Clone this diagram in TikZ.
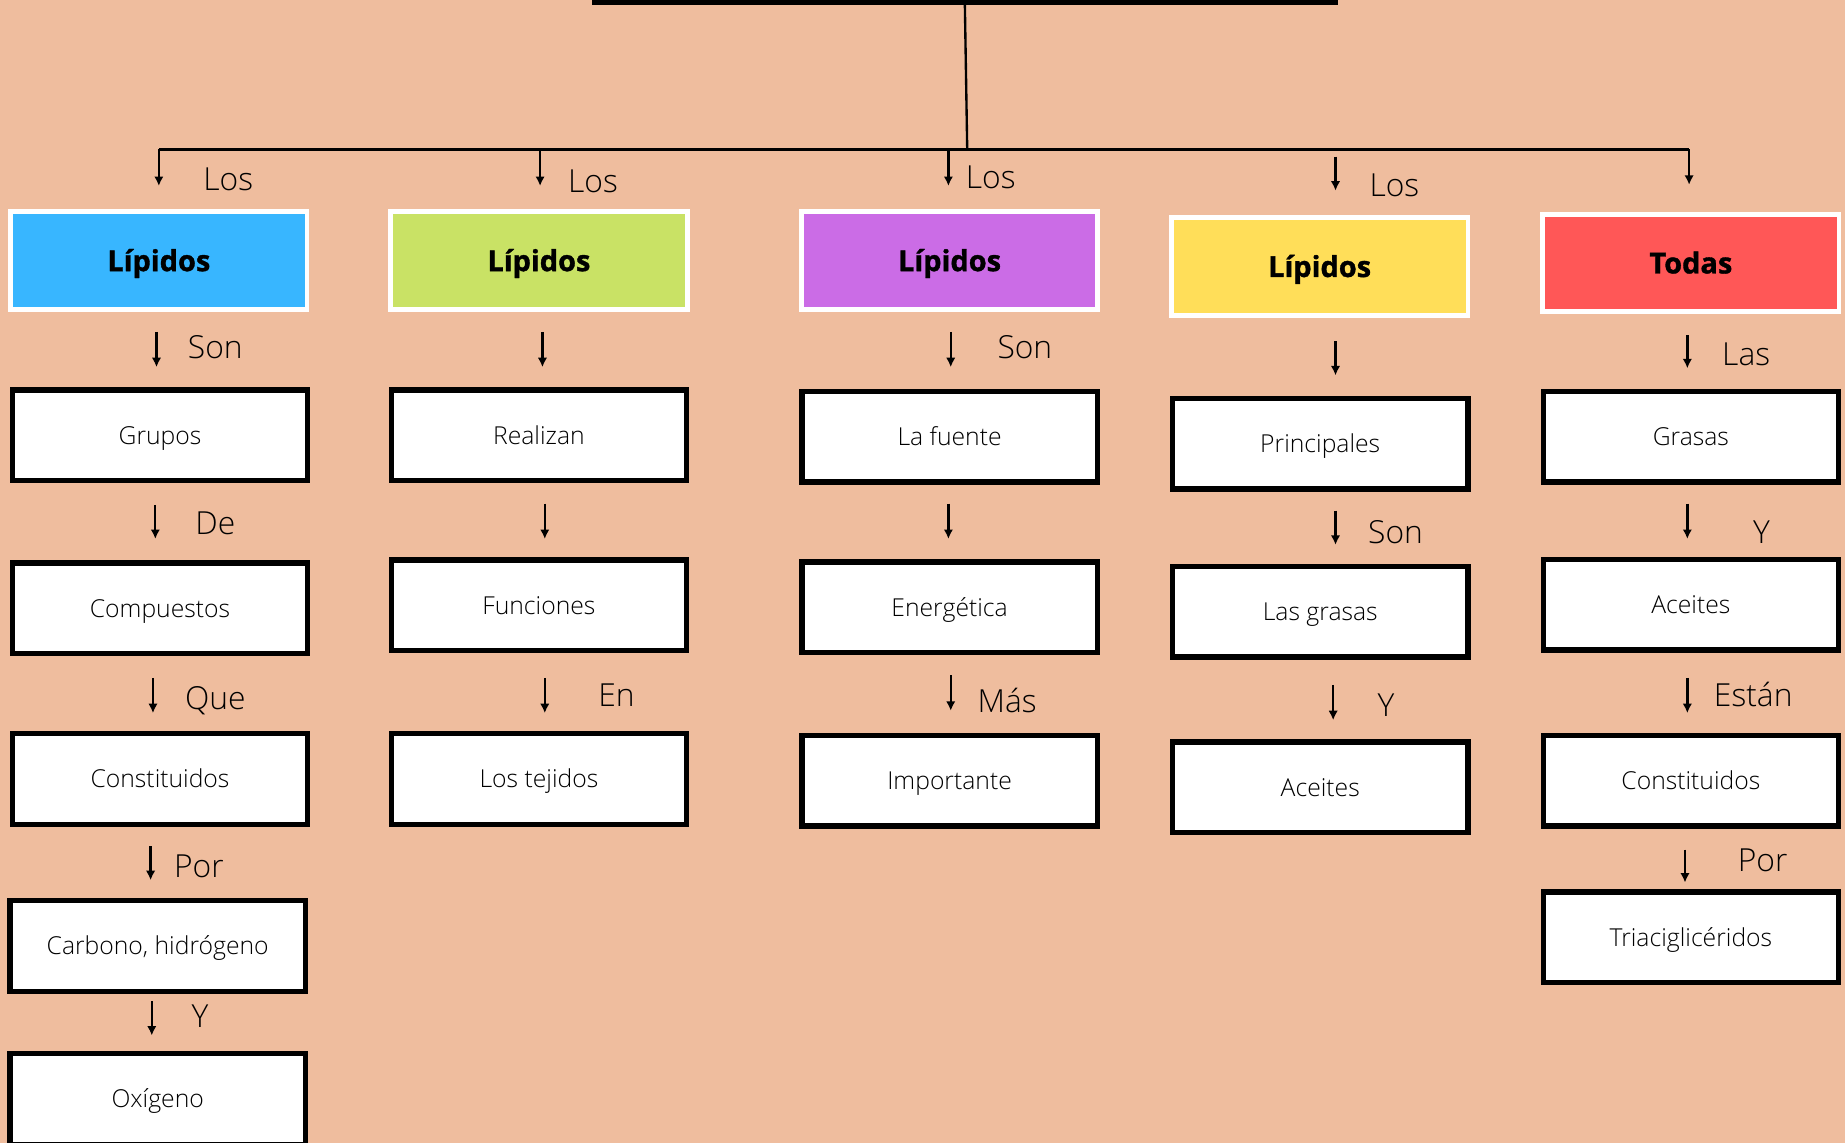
\documentclass[tikz,border=0pt]{standalone}
\usepackage{fontspec}
\setmainfont{Open Sans}[UprightFont={* Light},BoldFont={* Bold},BoldFeatures={FakeBold=1.2}]
\usetikzlibrary{arrows.meta}
\definecolor{bg}{HTML}{EFBD9E}
\definecolor{cblue}{HTML}{38B6FF}
\definecolor{cgreen}{HTML}{C9E265}
\definecolor{cpurple}{HTML}{CB6CE6}
\definecolor{cyellow}{HTML}{FFDE59}
\definecolor{cred}{HTML}{FF5757}
% short downward arrow between two named coordinates
\newcommand\dnarrow[4]{%
  \coordinate (#1s) at (#2,#3);
  \coordinate (#1e) at (#2,#4);
  \draw[arr] (#1s) -- (#1e);}
\begin{document}
\begin{tikzpicture}[x=0.5pt,y=-0.5pt,
  wbox/.style={draw=black,fill=white,line width=2.3pt,minimum width=125.5pt,
    minimum height=38.5pt,inner sep=0pt,text height=7.6pt,text depth=0pt,
    font=\fontsize{10.5}{12}\selectfont},
  hbox/.style={draw=white,line width=2pt,minimum width=126pt,minimum height=41.5pt,
    inner sep=0pt,text height=8.9pt,text depth=0pt,
    font=\bfseries\fontsize{12.3}{14}\selectfont},
  lbl/.style={font=\fontsize{13.5}{16}\selectfont,inner sep=0pt,text height=9.6pt,text depth=0pt},
  arr/.style={line width=1pt,-{Latex[length=4pt,width=4pt]}}]

% page and background
\fill[bg] (0,0) rectangle (1568,971);
\useasboundingbox (0,0) rectangle (1568,971);

% title bar and branching lines
\fill[black] (503,-10) rectangle (1137,4);
\coordinate (stemtop) at (820,4);
\coordinate (stembot) at (822,127);
\coordinate (brL) at (135,127);
\coordinate (brR) at (1435.5,127);
\draw[line width=1pt] (stemtop) -- (stembot);
\draw[line width=1pt] (brL) -- (brR);

% ---------- column 1 ----------
\dnarrow{a10}{135}{127}{158}
\node[lbl] (l10) at (194,152) {Los};
\node[hbox,fill=cblue] (c1) at (135,221.5) {Lípidos};
\dnarrow{a11}{133}{282}{312}
\node[lbl] (l11) at (183,295) {Son};
\node[wbox] (b11) at (136,370) {Grupos};
\dnarrow{a12}{132}{429}{458}
\node[lbl] (l12) at (183,445) {De};
\node[wbox] (b12) at (136,517) {Compuestos};
\dnarrow{a13}{130}{576}{606}
\node[lbl] (l13) at (183,593) {Que};
\node[wbox] (b13) at (136,662) {Constituidos};
\dnarrow{a14}{128}{719}{748}
\node[lbl] (l14) at (169,736) {Por};
\node[wbox] (b14) at (134,804) {Carbono, hidrógeno};
\dnarrow{a15}{129}{851}{880}
\node[lbl] (l15) at (170,864) {Y};
\node[wbox] (b15) at (134,934) {Oxígeno};

% ---------- column 2 ----------
\dnarrow{a20}{459}{127}{158}
\node[lbl] (l20) at (504,154) {Los};
\node[hbox,fill=cgreen] (c2) at (458,221.5) {Lípidos};
\dnarrow{a21}{461}{282}{312}
\node[wbox] (b21) at (458,370) {Realizan};
\dnarrow{a22}{463}{428}{458}
\node[wbox] (b22) at (458,514.5) {Funciones};
\dnarrow{a23}{463}{576}{606}
\node[lbl] (l23) at (524,591) {En};
\node[wbox] (b23) at (458,662) {Los tejidos};

% ---------- column 3 ----------
\dnarrow{a30}{806}{127}{158}
\node[lbl] (l30) at (842,151) {Los};
\node[hbox,fill=cpurple] (c3) at (807,221.5) {Lípidos};
\dnarrow{a31}{808}{282}{312}
\node[lbl] (l31) at (871,295) {Son};
\node[wbox] (b31) at (807,371) {La fuente};
\dnarrow{a32}{806}{428}{458}
\node[wbox] (b32) at (807,516) {Energética};
\dnarrow{a33}{808}{574}{604}
\node[lbl] (l33) at (856,596) {Más};
\node[wbox] (b33) at (807,663.5) {Importante};

% ---------- column 4 ----------
\dnarrow{a40}{1135}{133}{162}
\node[lbl] (l40) at (1185,157) {Los};
\node[hbox,fill=cyellow] (c4) at (1121.5,226.5) {Lípidos};
\dnarrow{a41}{1135}{290}{319}
\node[wbox] (b41) at (1122,377) {Principales};
\dnarrow{a42}{1135}{434}{463}
\node[lbl] (l42) at (1186,452) {Son};
\node[wbox] (b42) at (1122,520) {Las grasas};
\dnarrow{a43}{1133}{582}{612}
\node[lbl] (l43) at (1178,599) {Y};
\node[wbox] (b43) at (1122,669) {Aceites};

% ---------- column 5 ----------
\dnarrow{a50}{1435.5}{127}{157}
\node[hbox,fill=cred] (c5) at (1437,223.5) {Todas};
\dnarrow{a51}{1434}{285}{313}
\node[lbl] (l51) at (1484,301) {Las};
\node[wbox] (b51) at (1437,371) {Grasas};
\dnarrow{a52}{1434}{428}{458}
\node[lbl] (l52) at (1497,452) {Y};
\node[wbox] (b52) at (1437,514) {Aceites};
\dnarrow{a53}{1434}{576}{606}
\node[lbl] (l53) at (1490,591) {Están};
\node[wbox] (b53) at (1437,663.5) {Constituidos};
\dnarrow{a54}{1432}{722}{750}
\node[lbl] (l54) at (1498,731) {Por};
\node[wbox] (b54) at (1437,796.5) {Triaciglicéridos};
\end{tikzpicture}
\end{document}
